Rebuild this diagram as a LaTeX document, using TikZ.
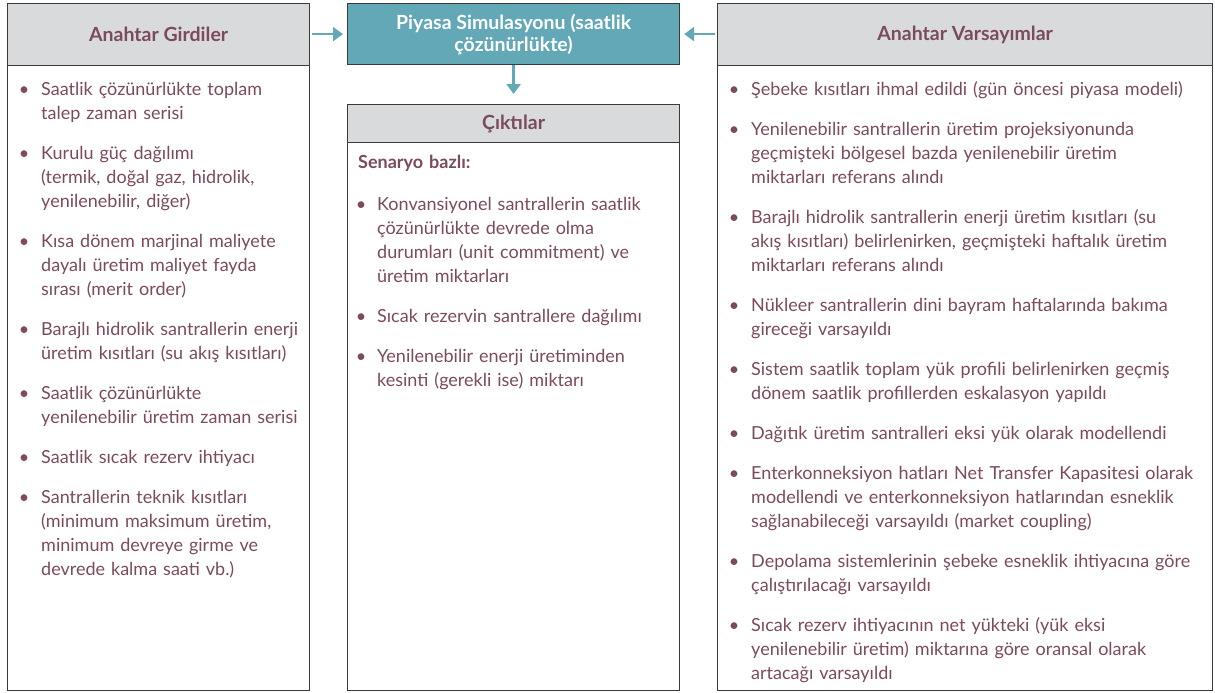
\documentclass[tikz,border=0pt]{standalone}
\usepackage{fontspec}
\setmainfont{Lato}
\usepackage{enumitem}
\usepackage{tikz}
\usetikzlibrary{arrows.meta}
\definecolor{txt}{HTML}{7B4A5C}
\definecolor{teal}{HTML}{62A8B7}
\definecolor{hdr}{HTML}{D9DADC}
\definecolor{edge}{HTML}{3A3A3A}
\setlist[itemize]{label=\textbullet,leftmargin=19pt,labelsep=12pt,itemsep=16pt,parsep=0pt,topsep=0pt,partopsep=0pt}
\tikzset{
  box/.style={draw=edge,line width=1.2pt,anchor=north west,inner sep=0pt},
  head/.style={box,fill=hdr,font=\fontsize{19.5}{22}\selectfont\bfseries,text=txt},
  body/.style={anchor=north west,inner sep=0pt,align=left,text=txt,
    font=\fontsize{18}{24}\selectfont},
  flow/.style={teal,line width=2.6pt,-{Triangle[width=14pt,length=10pt]}}
}
\begin{document}
\begin{tikzpicture}[x=1pt,y=-1pt]
\useasboundingbox (0,0) rectangle (1215,693);
% left column
\node[head,minimum width=302pt,minimum height=62pt] (inHead) at (7,3) {Anahtar Girdiler};
\node[box,minimum width=302pt,minimum height=625pt] (inBody) at (7,65) {};
\node[body,text width=290pt] (inText) at (22,71) {%
\begin{itemize}
\item Saatlik çözünürlükte toplam\\ talep zaman serisi
\item Kurulu güç dağılımı\\ (termik, doğal gaz, hidrolik,\\ yenilenebilir, diğer)
\item Kısa dönem marjinal maliyete\\ dayalı üretim maliyet fayda\\ sırası (merit order)
\item Barajlı hidrolik santrallerin enerji\\ üretim kısıtları (su akış kısıtları)
\item Saatlik çözünürlükte\\ yenilenebilir üretim zaman serisi
\item Saatlik sıcak rezerv ihtiyacı
\item Santrallerin teknik kısıtları\\ (minimum maksimum üretim,\\ minimum devreye girme ve\\ devrede kalma saati vb.)
\end{itemize}};
% middle column
\node[box,fill=teal,minimum width=332pt,minimum height=61pt,text=white,align=center,
  font=\fontsize{19.5}{22}\selectfont\bfseries] (sim) at (347,3) {Piyasa Simulasyonu (saatlik\\ çözünürlükte)};
\node[head,minimum width=332pt,minimum height=38pt] (outHead) at (347,104) {Çıktılar};
\node[box,minimum width=332pt,minimum height=548pt] (outBody) at (347,142) {};
\node[body,text width=320pt] (outText) at (358,155) {%
{\bfseries Senaryo bazlı:}\\[18pt]
\hspace*{2pt}\begin{minipage}[t]{318pt}
\begin{itemize}[labelsep=11pt,leftmargin=17pt]
\item Konvansiyonel santrallerin saatlik\\ çözünürlükte devrede olma\\ durumları (unit commitment) ve\\ üretim miktarları
\item Sıcak rezervin santrallere dağılımı
\item Yenilenebilir enerji üretiminden\\ kesinti (gerekli ise) miktarı
\end{itemize}
\end{minipage}};
% right column
\node[head,minimum width=495pt,minimum height=62pt] (asmHead) at (717,3) {Anahtar Varsayımlar};
\node[box,minimum width=495pt,minimum height=625pt] (asmBody) at (717,65) {};
\node[body,text width=490pt] (asmText) at (732,71) {%
\begin{itemize}
\item Şebeke kısıtları ihmal edildi (gün öncesi piyasa modeli)
\item Yenilenebilir santrallerin üretim projeksiyonunda\\ geçmişteki bölgesel bazda yenilenebilir üretim\\ miktarları referans alındı
\item Barajlı hidrolik santrallerin enerji üretim kısıtları (su\\ akış kısıtları) belirlenirken, geçmişteki haftalık üretim\\ miktarları referans alındı
\item Nükleer santrallerin dini bayram haftalarında bakıma\\ gireceği varsayıldı
\item Sistem saatlik toplam yük profili belirlenirken geçmiş\\ dönem saatlik profillerden eskalasyon yapıldı
\item Dağıtık üretim santralleri eksi yük olarak modellendi
\item Enterkonneksiyon hatları Net Transfer Kapasitesi olarak\\ modellendi ve enterkonneksiyon hatlarından esneklik\\ sağlanabileceği varsayıldı (market coupling)
\item Depolama sistemlerinin şebeke esneklik ihtiyacına göre\\ çalıştırılacağı varsayıldı
\item Sıcak rezerv ihtiyacının net yükteki (yük eksi\\ yenilenebilir üretim) miktarına göre oransal olarak\\ artacağı varsayıldı
\end{itemize}};
% arrows
\draw[flow,shorten <=2pt,shorten >=4pt] (inHead.east |- sim.west) -- (sim.west);
\draw[flow,shorten <=2pt,shorten >=4pt] (asmHead.west |- sim.east) -- (sim.east);
\draw[flow,shorten >=10pt] (sim.south) -- (outHead.north);
\end{tikzpicture}
\end{document}
